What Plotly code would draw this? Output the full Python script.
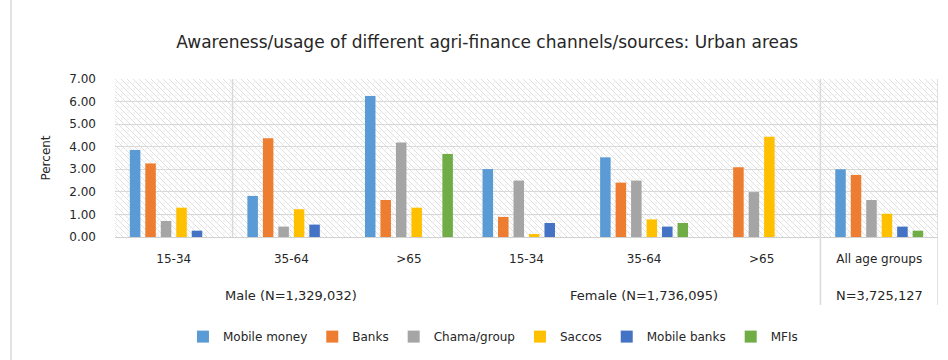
import base64
import plotly.graph_objects as go

# Category structure: sex group + age band
groups = ["Male (N=1,329,032)"] * 3 + ["Female (N=1,736,095)"] * 3 + ["N=3,725,127"]
ages = ["15-34", "35-64", ">65", "15-34", "35-64", ">65", "All age groups"]
keys = [f"{g}|{a}" for g, a in zip(groups, ages)]

# Percent aware/using each channel
mobile_money = [3.85, 1.82, 6.25, 3.01, 3.53, 0.00, 3.00]
banks        = [3.26, 4.37, 1.64, 0.89, 2.41, 3.09, 2.75]
chama_group  = [0.71, 0.46, 4.19, 2.50, 2.50, 1.99, 1.64]
saccos       = [1.30, 1.23, 1.30, 0.13, 0.78, 4.44, 1.03]
mobile_banks = [0.28, 0.55, 0.00, 0.62, 0.46, 0.00, 0.46]
mfis         = [0.00, 0.00, 3.68, 0.00, 0.62, 0.00, 0.28]

series = [
    ("Mobile money", mobile_money, "#5B9BD5"),
    ("Banks", banks, "#ED7D31"),
    ("Chama/group", chama_group, "#A5A5A5"),
    ("Saccos", saccos, "#FFC000"),
    ("Mobile banks", mobile_banks, "#4472C4"),
    ("MFIs", mfis, "#70AD47"),
]

y_ticks = [0, 1, 2, 3, 4, 5, 6, 7]

FONT = "DejaVu Sans, Liberation Sans, sans-serif"
TEXT = "#262626"

fig = go.Figure()
for name, vals, color in series:
    fig.add_trace(go.Bar(
        name=name, x=keys, y=vals,
        marker=dict(color=color, line=dict(width=0)),
    ))

# light hatched texture for the plot area
svg = (
    '<svg xmlns="http://www.w3.org/2000/svg" width="823" height="158">'
    '<defs><pattern id="p" width="6" height="6" patternUnits="userSpaceOnUse">'
    '<rect width="6" height="6" fill="#ffffff"/>'
    '<path d="M-1,-1 L7,7" stroke="#e0e0e0" stroke-width="1"/>'
    '<circle cx="1" cy="4" r="0.7" fill="#e2e2e2"/>'
    '</pattern></defs>'
    '<rect width="823" height="158" fill="url(#p)"/></svg>'
)
bg_uri = "data:image/svg+xml;base64," + base64.b64encode(svg.encode()).decode()

fig.update_layout(
    width=948, height=360,
    margin=dict(l=115, r=10, t=79, b=123),
    paper_bgcolor="white", plot_bgcolor="white",
    font=dict(family=FONT, size=12, color=TEXT),
    barmode="group", bargap=0.21, bargroupgap=0.32,
    title=dict(
        text="Awareness/usage of different agri-finance channels/sources: Urban areas",
        x=0.514, xref="container", xanchor="center",
        y=0.883, yref="container", yanchor="middle",
        font=dict(family=FONT, size=17, color=TEXT),
    ),
    legend=dict(
        orientation="h", x=0.52, xanchor="center", xref="container",
        y=0.065, yanchor="middle", yref="container",
        font=dict(family=FONT, size=12, color=TEXT),
        itemwidth=30, traceorder="normal",
    ),
    images=[dict(
        source=bg_uri, xref="paper", yref="paper", x=0, y=1,
        sizex=1, sizey=1, sizing="stretch", layer="below",
        xanchor="left", yanchor="top",
    )],
)

fig.update_xaxes(
    type="category", tickmode="array", tickvals=keys, ticktext=ages,
    showgrid=False, showline=True, linecolor="#d0d0d0", linewidth=1,
    ticks="", ticklabelstandoff=11,
    tickfont=dict(family=FONT, size=12, color=TEXT),
    range=[-0.5, len(keys) - 0.5],
)
fig.update_yaxes(
    range=[0, 7], tickmode="array", tickvals=y_ticks,
    ticktext=[f"{v:.2f}" for v in y_ticks],
    showgrid=True, gridcolor="#d9d9d9", gridwidth=1,
    zeroline=False, showline=False, ticks="", ticklabelstandoff=18,
    tickfont=dict(family=FONT, size=12, color=TEXT),
    title=dict(text="Percent", standoff=16, font=dict(family=FONT, size=12, color=TEXT)),
)

# second-level labels (sex groups)
for key, label in [(keys[1], groups[1]), (keys[4], groups[4]), (keys[6], groups[6])]:
    fig.add_annotation(
        x=key, y=-0.373, xref="x", yref="paper", text=label,
        showarrow=False, yanchor="middle",
        font=dict(family=FONT, size=13, color=TEXT),
    )

line_style = dict(color="#d9d9d9", width=1.5)
# vertical divider lines
fig.add_shape(type="line", xref="x", yref="paper", x0=0.5, x1=0.5, y0=0, y1=1, line=line_style)
fig.add_shape(type="line", xref="x", yref="paper", x0=5.5, x1=5.5, y0=-0.43, y1=1, line=line_style)
fig.add_shape(type="line", xref="x", yref="paper", x0=6.5, x1=6.5, y0=-0.43, y1=1, line=line_style)
# outer frame edge on the left
fig.add_shape(type="line", xref="paper", yref="paper", x0=-0.1264, x1=-0.1264,
              y0=-0.78, y1=1.5, line=dict(color="#d9d9d9", width=1.5))

fig.write_html("out.html")
